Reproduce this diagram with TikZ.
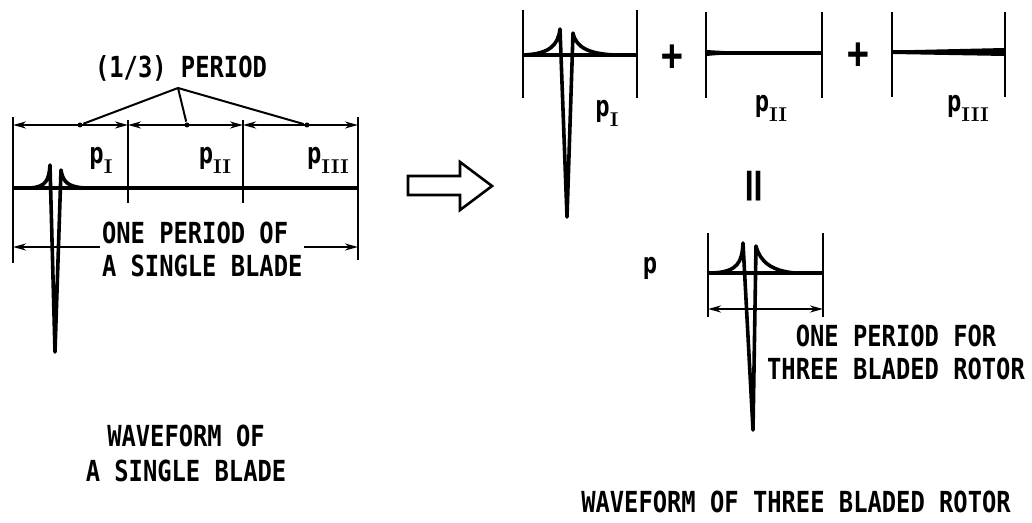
\documentclass[tikz,border=0pt]{standalone}
\usepackage{fontspec}
\newfontfamily\lblfont[FakeStretch=0.82]{DejaVu Sans Mono}
\newcommand{\psub}[1]{p\raisebox{-5pt}{\fontsize{10}{10}\selectfont\rmfamily\bfseries #1}}
\usetikzlibrary{arrows.meta}
\begin{document}
\begin{tikzpicture}[x=0.5pt,y=-0.5pt,line width=1pt,>={Stealth[length=6.5pt,width=3.5pt]}]
\tikzstyle{ann} = [font=\lblfont\bfseries\fontsize{14.5}{16.5}\selectfont,inner sep=0pt]
\tikzstyle{cut} = [ann,fill=white,inner sep=1pt]
\tikzstyle{big} = [ann,font=\lblfont\bfseries\fontsize{22}{22}\selectfont]
\tikzstyle{wave} = [line width=1.8pt,line join=round]
\tikzstyle{tip} = [circle,fill,inner sep=0pt,minimum size=2.5pt]
\useasboundingbox (0,0) rectangle (1032,523);
% waveform of a single blade
\draw (13,117) -- (13,263);
\draw (358,117) -- (358,260);
\draw (128,120) -- (128,203);
\draw (243,120) -- (243,203);
\draw[wave] (13,188) -- (358,188);
\draw[wave] (30,188) .. controls (46,187) and (49,180) .. (50,165) -- (55,352) -- (61,170)
  .. controls (63,182) and (68,187) .. (85,188);
\draw[arrows=<->] (13,125) -- (128,125);
\draw[arrows=<->] (128,125) -- (243,125);
\draw[arrows=<->] (243,125) -- (358,125);
\node[ann] (third) at (181,68) {(1/3) PERIOD};
\coordinate (apex) at (178,88);
\node[tip] (t1) at (80,125) {};
\node[tip] (t2) at (187,125) {};
\node[tip] (t3) at (307,125) {};
\draw (apex) -- (t1);
\draw (apex) -- (t2);
\draw (apex) -- (t3);
\node[ann] (pa) at (101,160) {\psub{I}};
\node[ann] (pb) at (215,160) {\psub{II}};
\node[ann] (pc) at (328,160) {\psub{III}};
\draw[arrows=<->] (13,247) -- (358,247);
\node[cut,align=left,anchor=west] (one) at (99,249) {ONE PERIOD OF\\A SINGLE BLADE};
\node[ann,align=center] (capa) at (186,453) {WAVEFORM OF\\[1pt]A SINGLE BLADE};
% big arrow
\draw[line width=1.3pt,line join=miter] (408,176) -- (460,176) -- (460,162) -- (492,186)
  -- (460,210) -- (460,195) -- (408,195) -- cycle;
% three components
\draw (523,10) -- (523,98);
\draw (637,10) -- (637,98);
\draw[wave] (523,55) -- (637,55);
\draw[wave] (523,55) .. controls (550,54) and (558,45) .. (560,29) -- (567,217) -- (573,33)
  .. controls (576,48) and (590,54) .. (615,55);
\node[ann] (qa) at (607,113) {\psub{I}};
\node[big] (plusa) at (672,58) {+};
\draw (706,12) -- (706,98);
\draw (822,12) -- (822,98);
\draw[wave] (706,53) -- (822,53);
\fill (706,50) -- (750,52.5) -- (706,56) -- cycle;
\node[ann] (qb) at (771,108) {\psub{II}};
\node[big] (plusb) at (858,56) {+};
\draw (892,12) -- (892,97);
\draw (1005,12) -- (1005,97);
\draw[wave] (892,52) -- (1005,52);
\fill (892,50.5) -- (1005,48) -- (1005,56) -- (892,54) -- cycle;
\node[ann] (qc) at (968,108) {\psub{III}};
\node[big,rotate=90] (eq) at (757,186) {\scalebox{1.6}[0.9]{=}};
% resulting waveform
\node[ann] (p) at (650,268) {p};
\draw (708,233) -- (708,317);
\draw (823,233) -- (823,317);
\draw[wave] (708,273) -- (823,273);
\draw[wave] (712,273) .. controls (738,272) and (742,262) .. (743,243) -- (753,430) -- (756,246)
  .. controls (760,262) and (772,271) .. (795,273);
\draw[arrows=<->] (708,309) -- (823,309);
\node[ann,align=center] (onefor) at (896,352) {ONE PERIOD FOR\\THREE BLADED ROTOR};
\node[ann] (capb) at (796,502) {WAVEFORM OF THREE BLADED ROTOR};
\end{tikzpicture}
\end{document}
